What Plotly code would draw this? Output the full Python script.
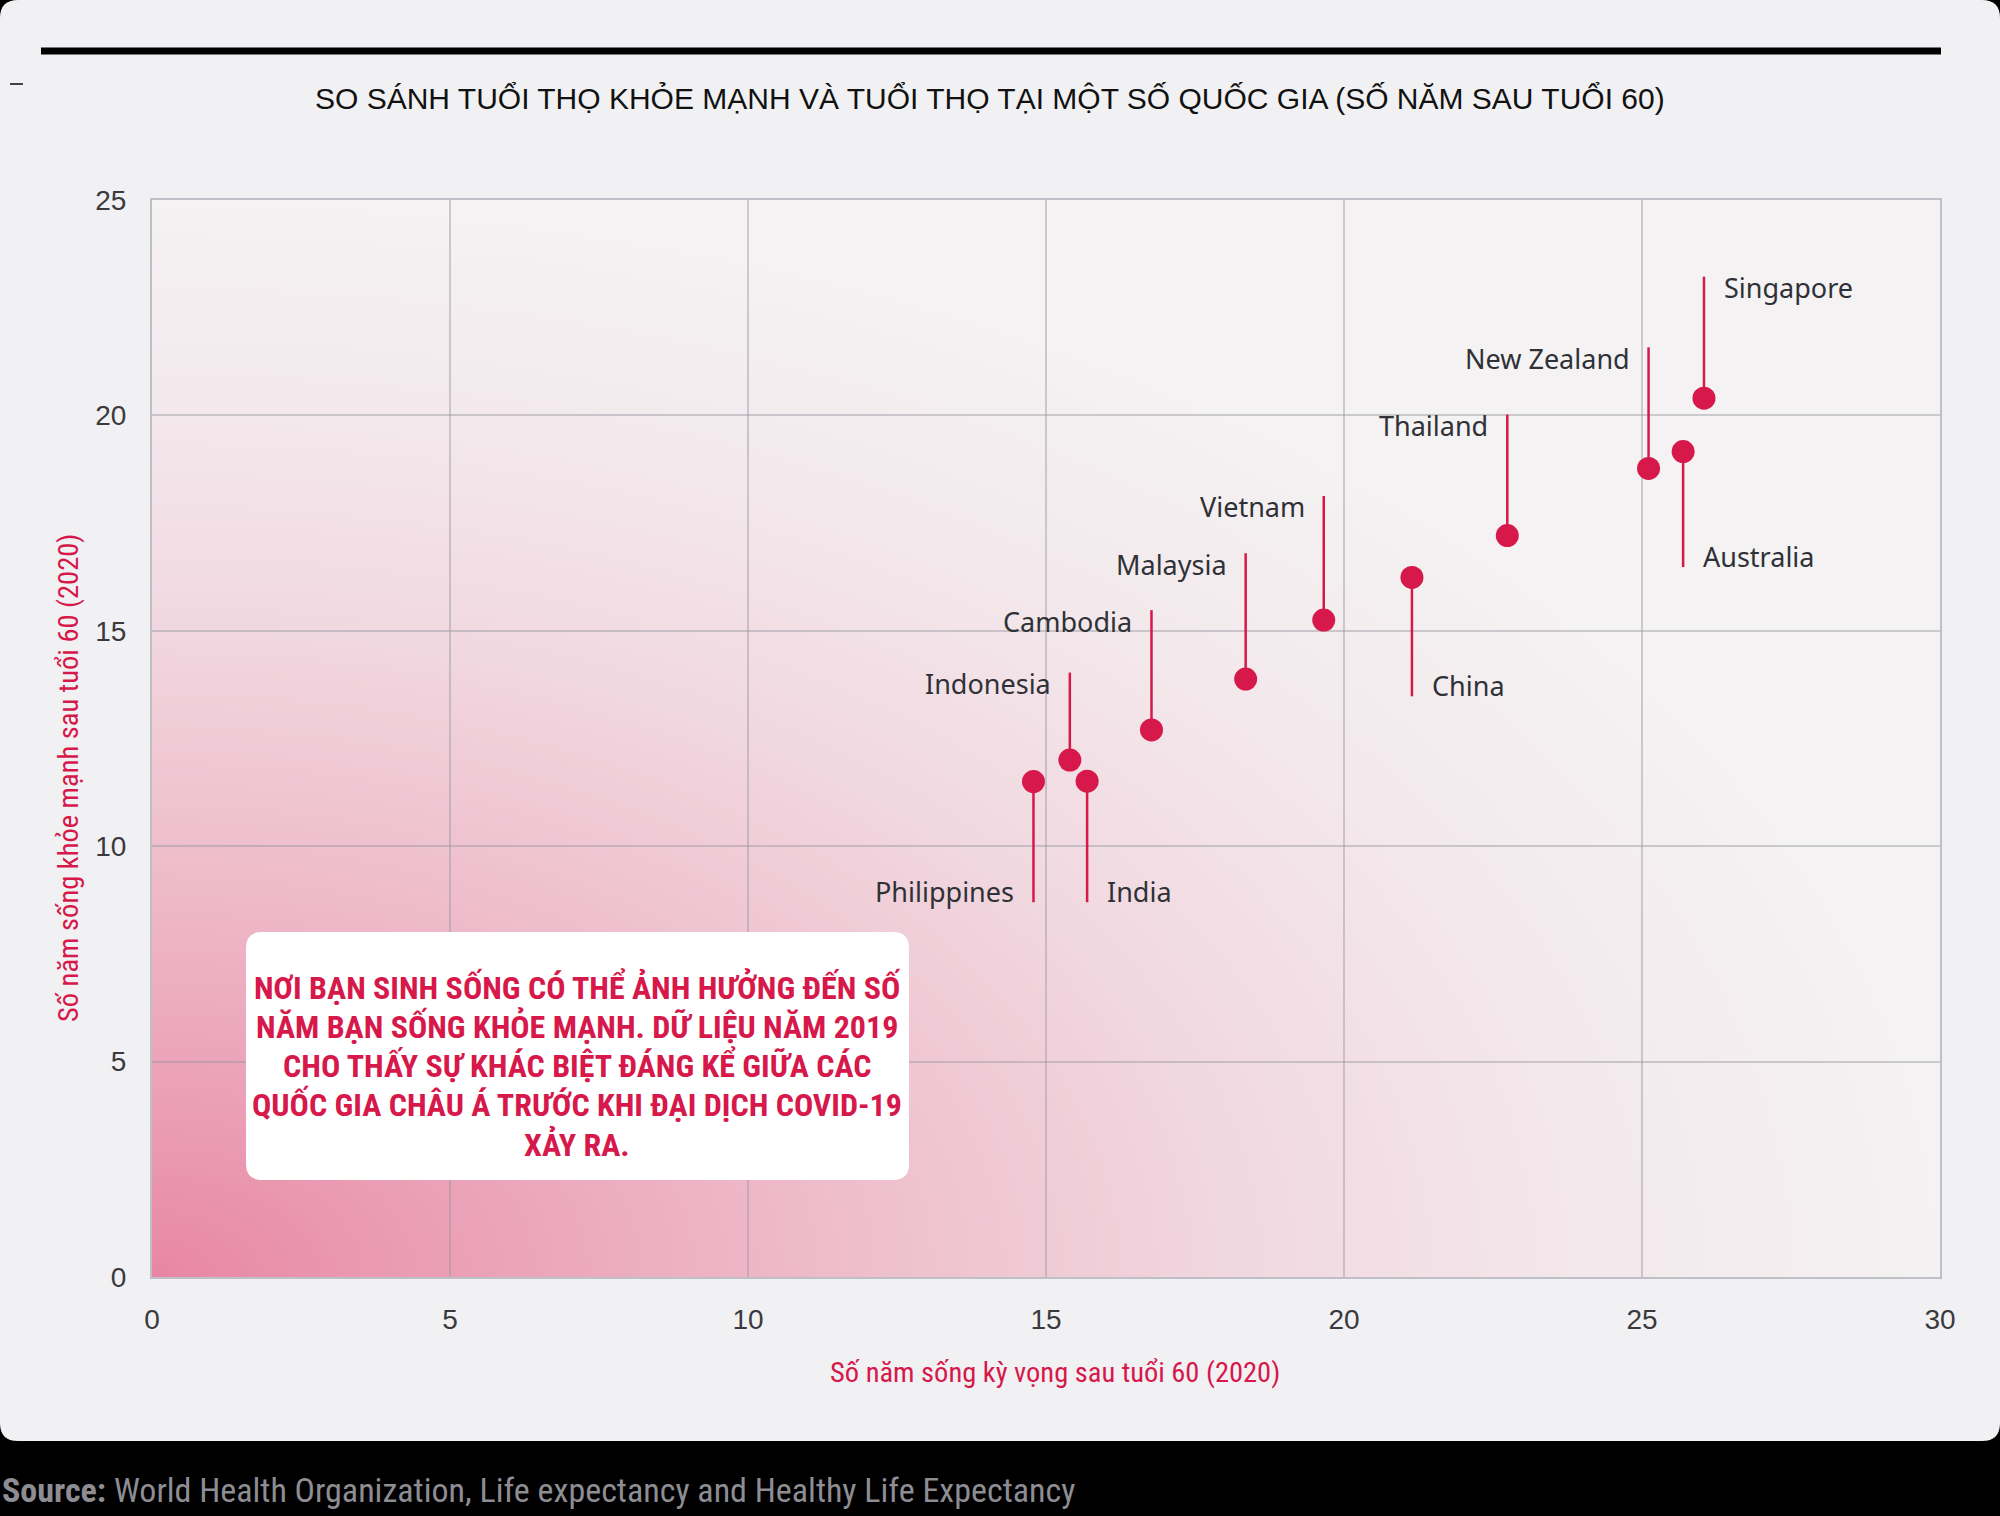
import base64
import plotly.graph_objects as go

# ---------------- data ----------------
countries = ["Philippines", "Indonesia", "India", "Cambodia", "Malaysia", "Vietnam",
             "China", "Thailand", "New Zealand", "Australia", "Singapore"]
life_expectancy_60 = [14.79, 15.40, 15.69, 16.77, 18.35, 19.66, 21.14, 22.74, 25.11, 25.69, 26.04]
healthy_life_60 = [11.50, 12.00, 11.51, 12.70, 13.88, 15.25, 16.24, 17.21, 18.77, 19.16, 20.40]
label_level = [8.70, 14.03, 8.70, 15.48, 16.80, 18.13, 13.48, 20.02, 21.58, 16.48, 23.22]
label_side = ["left", "left", "right", "left", "left", "left", "right", "left", "left", "right", "right"]

x_ticks = [0, 5, 10, 15, 20, 25, 30]
y_ticks = [0, 5, 10, 15, 20, 25]

title_text = "SO SÁNH TUỔI THỌ KHỎE MẠNH VÀ TUỔI THỌ TẠI MỘT SỐ QUỐC GIA (SỐ NĂM SAU TUỔI 60)"
x_title = "Số năm sống kỳ vọng sau tuổi 60 (2020)"
y_title = "Số năm sống khỏe mạnh sau tuổi 60 (2020)"
note_lines = ["NƠI BẠN SINH SỐNG CÓ THỂ ẢNH HƯỞNG ĐẾN SỐ",
              "NĂM BẠN SỐNG KHỎE MẠNH. DỮ LIỆU NĂM 2019",
              "CHO THẤY SỰ KHÁC BIỆT ĐÁNG KỂ GIỮA CÁC",
              "QUỐC GIA CHÂU Á TRƯỚC KHI ĐẠI DỊCH COVID-19",
              "XẢY RA."]
source_bold = "Source:"
source_text = "World Health Organization, Life expectancy and Healthy Life Expectancy"

# ---------------- styles ----------------
W, H = 2000, 1516
ML, MR, MT, MB = 152, 60, 200, 239
PW, PH = W - ML - MR, H - MT - MB
RED = "#D6184B"
TXT = "#2F3137"
NARROW = "Liberation Sans Narrow, Arial Narrow, Roboto Condensed, Liberation Sans, Arial, sans-serif"


def fx(px):
    return (px - ML) / PW


def fy(py):
    return (H - MB - py) / PH


fig = go.Figure()

# leader lines
lx, ly = [], []
for x, y, e in zip(life_expectancy_60, healthy_life_60, label_level):
    lx += [x, x, None]
    ly += [y, e, None]
fig.add_trace(go.Scatter(x=lx, y=ly, mode="lines", line=dict(color=RED, width=2.5),
                         hoverinfo="skip", showlegend=False))

# markers
fig.add_trace(go.Scatter(x=life_expectancy_60, y=healthy_life_60, mode="markers",
                         marker=dict(size=23, color=RED, line=dict(width=0)),
                         text=countries, hoverinfo="text", showlegend=False))

annotations = []
for c, x, y, e, side in zip(countries, life_expectancy_60, healthy_life_60, label_level, label_side):
    up = e > y
    annotations.append(dict(
        x=x, y=e, xref="x", yref="y", text=c, showarrow=False,
        xanchor="right" if side == "left" else "left",
        xshift=-17 if side == "left" else 18,
        yanchor="middle", yshift=-11 if up else 11,
        font=dict(family="Noto Sans", size=27, color=TXT)))

# title
annotations.append(dict(x=fx(990), y=fy(98), xref="paper", yref="paper", text=title_text,
                        showarrow=False, xanchor="center", yanchor="middle",
                        font=dict(family="Liberation Sans", size=30, color="#111111")))
# axis titles
annotations.append(dict(x=fx(1055), y=fy(1372), xref="paper", yref="paper", text=x_title,
                        showarrow=False, xanchor="center", yanchor="middle",
                        font=dict(family=NARROW, size=28.5, color=RED)))
annotations.append(dict(x=fx(68), y=fy(778), xref="paper", yref="paper", text=y_title,
                        showarrow=False, xanchor="center", yanchor="middle", textangle=-90,
                        font=dict(family=NARROW, size=28.5, color=RED)))
# note box text, one line each for exact spacing
for i, line in enumerate(note_lines):
    annotations.append(dict(x=fx(577), y=fy(987 + i * 39.3), xref="paper", yref="paper",
                            text=f"<b>{line}</b>", showarrow=False, align="center",
                            xanchor="center", yanchor="middle",
                            font=dict(family=NARROW, size=32, color=RED)))
# source
annotations.append(dict(x=0, y=fy(1490), xref="paper", yref="paper",
                        text=f"<b>{source_bold}</b> {source_text}", showarrow=False,
                        xanchor="left", yanchor="middle", xshift=-ML,
                        font=dict(family=NARROW, size=34, color="#8D8D93")))

# ---------- shapes ----------
shapes = []
r = 18
blk = "#000000"
shapes.append(dict(type="rect", xref="paper", yref="paper", x0=fx(0), x1=fx(W), y0=fy(1441), y1=fy(H),
                   fillcolor=blk, line=dict(width=0), layer="above"))
corner_paths = [
    f"M {fx(0)},{fy(0)} L {fx(r)},{fy(0)} Q {fx(0)},{fy(0)} {fx(0)},{fy(r)} Z",
    f"M {fx(W)},{fy(0)} L {fx(W)},{fy(r)} Q {fx(W)},{fy(0)} {fx(W-r)},{fy(0)} Z",
    f"M {fx(0)},{fy(1441)} L {fx(0)},{fy(1441-r)} Q {fx(0)},{fy(1441)} {fx(r)},{fy(1441)} Z",
    f"M {fx(W)},{fy(1441)} L {fx(W-r)},{fy(1441)} Q {fx(W)},{fy(1441)} {fx(W)},{fy(1441-r)} Z",
]
for p in corner_paths:
    shapes.append(dict(type="path", xref="paper", yref="paper", path=p,
                       fillcolor=blk, line=dict(width=0), layer="above"))
shapes.append(dict(type="line", xref="paper", yref="paper", x0=fx(41), x1=fx(1941), y0=fy(51), y1=fy(51),
                   line=dict(color="#000000", width=7), layer="above"))
shapes.append(dict(type="line", xref="paper", yref="paper", x0=fx(10), x1=fx(23), y0=fy(84), y1=fy(84),
                   line=dict(color="#444444", width=2), layer="above"))
bx0, bx1, by0, by1, br = 246, 909, 932, 1180, 16
box_path = (f"M {fx(bx0+br)},{fy(by0)} L {fx(bx1-br)},{fy(by0)} Q {fx(bx1)},{fy(by0)} {fx(bx1)},{fy(by0+br)} "
            f"L {fx(bx1)},{fy(by1-br)} Q {fx(bx1)},{fy(by1)} {fx(bx1-br)},{fy(by1)} "
            f"L {fx(bx0+br)},{fy(by1)} Q {fx(bx0)},{fy(by1)} {fx(bx0)},{fy(by1-br)} "
            f"L {fx(bx0)},{fy(by0+br)} Q {fx(bx0)},{fy(by0)} {fx(bx0+br)},{fy(by0)} Z")
shapes.append(dict(type="path", xref="paper", yref="paper", path=box_path,
                   fillcolor="#FFFFFF", line=dict(width=0), layer="above"))

# gradient background image (svg)
svg = ("<svg xmlns='http://www.w3.org/2000/svg' viewBox='0 0 100 100' preserveAspectRatio='none'>"
       "<defs><radialGradient id='g' cx='0' cy='1' r='1' gradientUnits='objectBoundingBox'>"
       "<stop offset='0' stop-color='#E886A4'/>"
       "<stop offset='0.12' stop-color='#EA99B1'/>"
       "<stop offset='0.35' stop-color='#EEB8C8'/>"
       "<stop offset='0.6' stop-color='#F1D7DF'/>"
       "<stop offset='0.8' stop-color='#F3E8EB'/>"
       "<stop offset='1' stop-color='#F4F2F2'/>"
       "</radialGradient></defs>"
       "<rect x='0' y='0' width='100' height='100' fill='#F4F3F2'/>"
       "<rect x='0' y='0' width='100' height='100' fill='url(#g)'/></svg>")
src = "data:image/svg+xml;base64," + base64.b64encode(svg.encode("utf-8")).decode("ascii")

grid = "rgba(150,150,162,0.45)"
axis_common = dict(showgrid=True, gridcolor=grid, gridwidth=1.5, zeroline=False,
                   showline=True, linecolor="rgba(150,150,162,0.55)", linewidth=2, mirror=True,
                   ticks="", tickfont=dict(family="Liberation Sans", size=28, color="#3A3A3E"))

fig.update_layout(
    width=W, height=H,
    margin=dict(l=ML, r=MR, t=MT, b=MB, pad=0),
    paper_bgcolor="#F1F1F3",
    plot_bgcolor="rgba(0,0,0,0)",
    xaxis=dict(range=[0, 30], tickvals=x_ticks, ticklabelstandoff=16, **axis_common),
    yaxis=dict(range=[0, 25], tickvals=y_ticks, ticklabelstandoff=18, **axis_common),
    images=[dict(source=src, xref="paper", yref="paper", x=0, y=1, sizex=1, sizey=1,
                 xanchor="left", yanchor="top", sizing="stretch", layer="below")],
    shapes=shapes,
    annotations=annotations,
    showlegend=False,
    hovermode="closest",
)

fig.write_html("out.html")
